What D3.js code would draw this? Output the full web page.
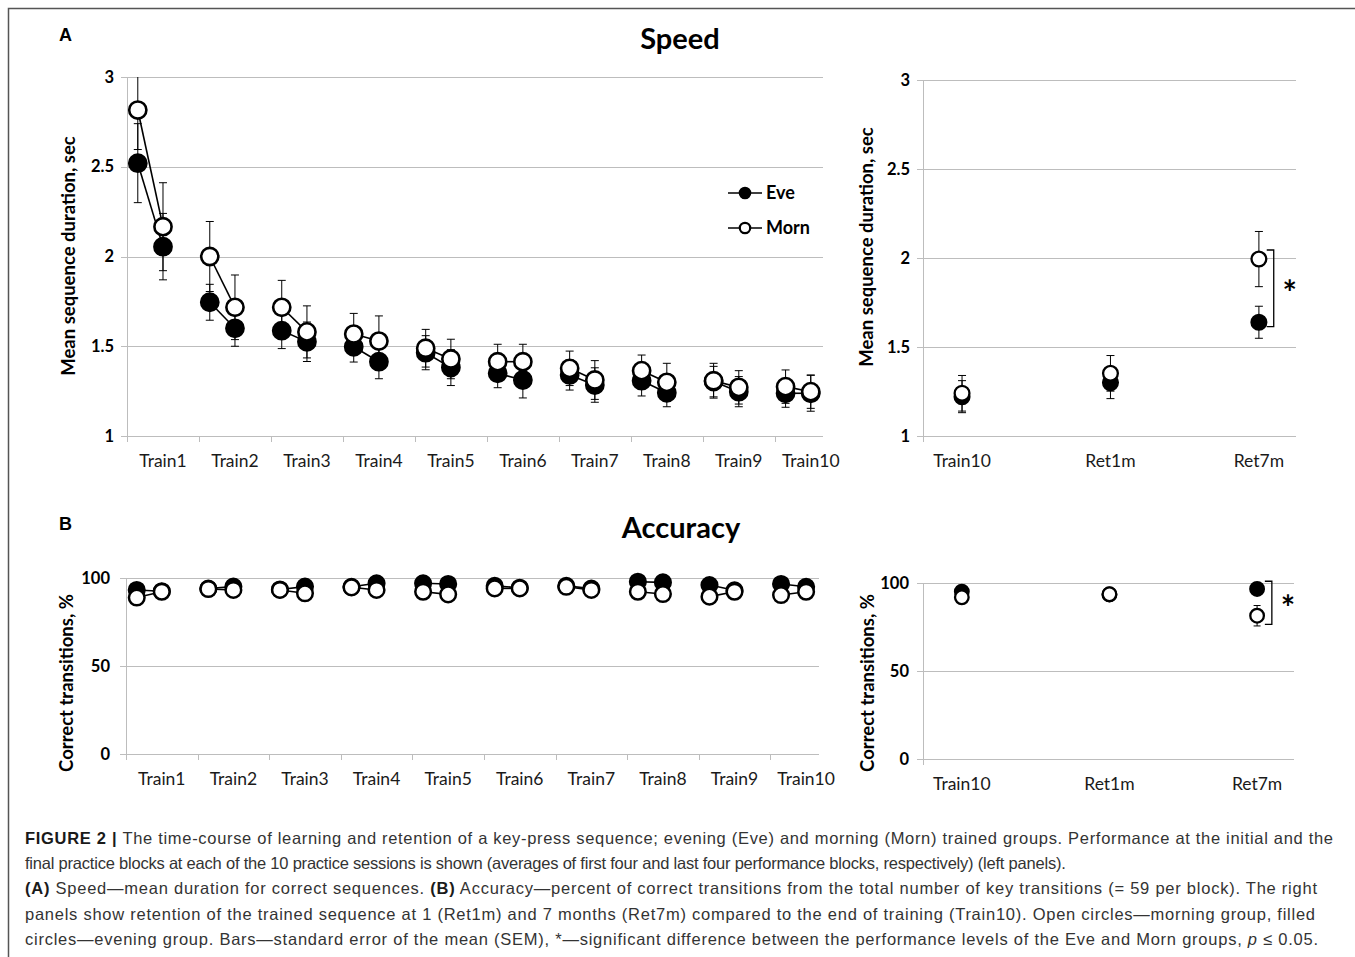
<!DOCTYPE html>
<html>
<head>
<meta charset="utf-8">
<script src="https://cdn.jsdelivr.net/npm/d3@7"></script>
<style>
    body { margin: 0; background: #fff; }
    svg { display: block; }
</style>
</head>
<body>
<div id="chart"></div>
<script>
    var width = 1355;
    var height = 957;

    // categories
    var sessions = ["Train1", "Train2", "Train3", "Train4", "Train5", "Train6", "Train7", "Train8", "Train9", "Train10"];
    var retLabels = ["Train10", "Ret1m", "Ret7m"];

    // speed, two blocks per session (first four / last four)
    var speedEve = [2.52, 2.055, 1.745, 1.60, 1.587, 1.525, 1.497, 1.414, 1.464, 1.381,
        1.349, 1.312, 1.34, 1.284, 1.308, 1.241, 1.303, 1.247, 1.238, 1.238];
    var speedEveErr = [0.22, 0.185, 0.10, 0.10, 0.10, 0.11, 0.085, 0.095, 0.095, 0.10,
        0.08, 0.10, 0.084, 0.096, 0.085, 0.078, 0.085, 0.084, 0.078, 0.10];
    var speedMorn = [2.816, 2.166, 2.0, 1.717, 1.717, 1.58, 1.568, 1.529, 1.489, 1.429,
        1.414, 1.414, 1.377, 1.312, 1.364, 1.299, 1.308, 1.271, 1.275, 1.247];
    var speedMornErr = [0.22, 0.245, 0.195, 0.18, 0.15, 0.145, 0.115, 0.14, 0.105, 0.11,
        0.097, 0.097, 0.096, 0.108, 0.087, 0.106, 0.097, 0.093, 0.093, 0.093];

    // accuracy, %
    var accEve = [93.2, 92.5, 94, 95.1, 93.5, 95.1, 95, 97, 97, 96.6,
        95.5, 94.5, 95.5, 94, 97.9, 97.5, 96, 93, 96.6, 95];
    var accEveErr = [1.5, 1.4, 1.2, 1.0, 1.3, 1.1, 1.0, 0.9, 0.9, 1.0,
        1.0, 1.2, 1.0, 1.2, 0.8, 0.9, 1.1, 1.3, 1.0, 1.1];
    var accMorn = [88.9, 92.2, 93.75, 93.2, 93.2, 91.3, 94.7, 93.2, 92.2, 90.7,
        94.1, 94.1, 95, 93.2, 92.2, 90.9, 89.4, 92.2, 90.3, 92.2];
    var accMornErr = [2.0, 1.6, 1.4, 1.5, 1.5, 1.8, 1.2, 1.5, 1.6, 1.9,
        1.3, 1.3, 1.2, 1.5, 1.6, 1.8, 2.0, 1.6, 1.9, 1.6];

    // retention (Train10, Ret1m, Ret7m)
    var retSpeedEve = [1.221, 1.30, 1.639];
    var retSpeedEveErr = [0.09, 0.09, 0.09];
    var retSpeedMorn = [1.24, 1.352, 1.994];
    var retSpeedMornErr = [0.1, 0.1, 0.155];
    var retAccEve = [95.1, 93.5, 96.6];
    var retAccEveErr = [1.2, 1.2, 1.0];
    var retAccMorn = [91.9, 93.6, 81.4];
    var retAccMornErr = [1.5, 1.5, 5.8];

    // significance brackets (data units) at Ret7m
    var speedBracket = [1.615, 2.045];
    var accBracket = [76.5, 101];

    var chartFont = "Lato, 'Open Sans', sans-serif";
    var gridColor = "#bdbdbd";

    var svg = d3.select("#chart").append("svg")
        .attr("width", width)
        .attr("height", height);

    // figure frame
    svg.append("path")
        .attr("d", "M8.5," + height + "V8.5H" + width)
        .attr("fill", "none")
        .attr("stroke", "#555")
        .attr("stroke-width", 1.5);

    function blockPos(i) {
        // session index + offset of block inside session
        return Math.floor(i / 2) + (i % 2 === 0 ? 0.15 : 0.5);
    }

    function drawPanel(p) {
        var g = svg.append("g");
        var x = d3.scaleLinear().domain(p.xDomain).range(p.xRange);
        var y = d3.scaleLinear().domain(p.yDomain).range(p.yRange);

        //网格线
        g.selectAll(".grid")
            .data(p.yTicks)
            .enter()
            .append("line")
            .attr("x1", p.xRange[0] - 6)
            .attr("x2", p.xRange[1])
            .attr("y1", function (d) { return Math.round(y(d)) + 0.5; })
            .attr("y2", function (d) { return Math.round(y(d)) + 0.5; })
            .attr("stroke", gridColor)
            .attr("stroke-width", 1);

        // y axis line
        g.append("line")
            .attr("x1", Math.round(p.xRange[0]) + 0.5)
            .attr("x2", Math.round(p.xRange[0]) + 0.5)
            .attr("y1", p.yRange[1])
            .attr("y2", p.yRange[0] + 6)
            .attr("stroke", gridColor);

        // x ticks
        g.selectAll(".xtick")
            .data(p.xTicks)
            .enter()
            .append("line")
            .attr("x1", function (d) { return Math.round(x(d)) + 0.5; })
            .attr("x2", function (d) { return Math.round(x(d)) + 0.5; })
            .attr("y1", p.yRange[0])
            .attr("y2", p.yRange[0] + 6)
            .attr("stroke", gridColor);

        // y tick labels
        g.selectAll(".ylab")
            .data(p.yTicks)
            .enter()
            .append("text")
            .attr("x", p.xRange[0] - p.yLabelGap)
            .attr("y", function (d) { return y(d) + 5.5; })
            .attr("text-anchor", "end")
            .style("font-family", chartFont)
            .style("font-weight", "bold")
            .style("font-size", "16.5px")
            .text(function (d) { return String(d); });

        // category labels
        g.selectAll(".xlab")
            .data(p.labels)
            .enter()
            .append("text")
            .attr("x", function (d, i) { return x(p.labelPos(i)); })
            .attr("y", p.yRange[0] + p.xLabelOffset)
            .attr("text-anchor", "middle")
            .style("font-family", chartFont)
            .style("font-size", "17.5px")
            .style("fill", "#1a1a1a")
            .text(function (d) { return d; });

        // y axis title
        g.append("text")
            .attr("transform", "translate(" + p.titleX + "," + p.titleY + ") rotate(-90)")
            .attr("text-anchor", "middle")
            .style("font-family", chartFont)
            .style("font-weight", "bold")
            .style("font-size", "18.5px")
            .text(p.yTitle);

        function clampV(v) {
            return Math.max(p.yDomain[0], Math.min(p.yDomain[1], v));
        }

        p.series.forEach(function (s) {
            var pts = s.values.map(function (v, i) {
                return { x: p.pos(i), v: v, e: s.errors[i], i: i };
            });

            // error bars
            var eb = g.append("g").attr("stroke", "#000").attr("stroke-width", 1);
            pts.forEach(function (d) {
                var hi = d.v + d.e, lo = d.v - d.e;
                var cx = x(d.x);
                eb.append("line")
                    .attr("x1", cx).attr("x2", cx)
                    .attr("y1", y(clampV(hi))).attr("y2", y(clampV(lo)));
                [hi, lo].forEach(function (b) {
                    if (b > p.yDomain[1] || b < p.yDomain[0]) return;
                    eb.append("line")
                        .attr("x1", cx - p.cap).attr("x2", cx + p.cap)
                        .attr("y1", y(b)).attr("y2", y(b));
                });
            });

            // connecting lines inside each session
            if (p.connect) {
                var pairs = d3.range(pts.length / 2).map(function (k) {
                    return [pts[2 * k], pts[2 * k + 1]];
                });
                g.selectAll(null)
                    .data(pairs)
                    .enter()
                    .append("line")
                    .attr("x1", function (d) { return x(d[0].x); })
                    .attr("y1", function (d) { return y(d[0].v); })
                    .attr("x2", function (d) { return x(d[1].x); })
                    .attr("y2", function (d) { return y(d[1].v); })
                    .attr("stroke", "#000")
                    .attr("stroke-width", 1.6);
            }

            // markers
            g.selectAll(null)
                .data(pts)
                .enter()
                .append("circle")
                .attr("cx", function (d) { return x(d.x); })
                .attr("cy", function (d) { return y(d.v); })
                .attr("r", p.r)
                .attr("fill", s.filled ? "#000" : "#fff")
                .attr("stroke", "#000")
                .attr("stroke-width", p.rStroke);
        });

        // significance bracket
        if (p.bracket) {
            var bx = x(p.bracketX);
            g.append("path")
                .attr("d", "M" + (bx - 7) + "," + y(p.bracket[1]) + "H" + bx + "V" + y(p.bracket[0]) + "H" + (bx - 7))
                .attr("fill", "none")
                .attr("stroke", "#000")
                .attr("stroke-width", 1.3);
            g.append("text")
                .attr("x", bx + 16)
                .attr("y", (y(p.bracket[0]) + y(p.bracket[1])) / 2 + 17)
                .attr("text-anchor", "middle")
                .style("font-family", chartFont)
                .style("font-weight", "bold")
                .style("font-size", "34px")
                .text("*");
        }
        return g;
    }

    // A, left: speed over training
    drawPanel({
        xDomain: [0, 9.67], xRange: [127, 823],
        yDomain: [1, 3], yRange: [436, 77],
        yTicks: [1, 1.5, 2, 2.5, 3], yLabelGap: 13,
        xTicks: d3.range(10),
        labels: sessions, labelPos: function (i) { return i + 0.5; }, xLabelOffset: 31,
        pos: blockPos,
        yTitle: "Mean sequence duration, sec", titleX: 75, titleY: 256,
        r: 8.6, rStroke: 2.6, cap: 4, connect: true,
        series: [
            { values: speedEve, errors: speedEveErr, filled: true },
            { values: speedMorn, errors: speedMornErr, filled: false }
        ]
    });

    // A, right: retention speed
    drawPanel({
        xDomain: [0.737, 3.25], xRange: [923, 1296],
        yDomain: [1, 3], yRange: [436, 80],
        yTicks: [1, 1.5, 2, 2.5, 3], yLabelGap: 13,
        xTicks: [0.737],
        labels: retLabels, labelPos: function (i) { return i + 1; }, xLabelOffset: 31,
        pos: function (i) { return i + 1; },
        yTitle: "Mean sequence duration, sec", titleX: 873, titleY: 247,
        r: 7.4, rStroke: 2.3, cap: 4, connect: false,
        bracket: speedBracket, bracketX: 3.1,
        series: [
            { values: retSpeedEve, errors: retSpeedEveErr, filled: true },
            { values: retSpeedMorn, errors: retSpeedMornErr, filled: false }
        ]
    });

    // B, left: accuracy over training
    drawPanel({
        xDomain: [0, 9.68], xRange: [126, 819],
        yDomain: [0, 100], yRange: [754, 578],
        yTicks: [0, 50, 100], yLabelGap: 16,
        xTicks: d3.range(10),
        labels: sessions, labelPos: function (i) { return i + 0.5; }, xLabelOffset: 31,
        pos: blockPos,
        yTitle: "Correct transitions, %", titleX: 73, titleY: 683,
        r: 7.8, rStroke: 2.5, cap: 3.5, connect: true,
        series: [
            { values: accEve, errors: accEveErr, filled: true },
            { values: accMorn, errors: accMornErr, filled: false }
        ]
    });

    // B, right: retention accuracy
    drawPanel({
        xDomain: [0.737, 3.25], xRange: [923, 1294],
        yDomain: [0, 100], yRange: [759, 583],
        yTicks: [0, 50, 100], yLabelGap: 14,
        xTicks: [0.737],
        labels: retLabels, labelPos: function (i) { return i + 1; }, xLabelOffset: 31,
        pos: function (i) { return i + 1; },
        yTitle: "Correct transitions, %", titleX: 874, titleY: 683,
        r: 6.8, rStroke: 2.3, cap: 3.5, connect: false,
        bracket: accBracket, bracketX: 3.1,
        series: [
            { values: retAccEve, errors: retAccEveErr, filled: true },
            { values: retAccMorn, errors: retAccMornErr, filled: false }
        ]
    });

    // panel titles and letters
    svg.append("text").attr("x", 680).attr("y", 49).attr("text-anchor", "middle")
        .style("font-family", chartFont).style("font-weight", "bold").style("font-size", "29px")
        .text("Speed");
    svg.append("text").attr("x", 681).attr("y", 538).attr("text-anchor", "middle")
        .style("font-family", chartFont).style("font-weight", "bold").style("font-size", "29px")
        .text("Accuracy");
    svg.append("text").attr("x", 59).attr("y", 41)
        .style("font-family", "'Liberation Sans', Arial, sans-serif").style("font-weight", "bold").style("font-size", "18px")
        .text("A");
    svg.append("text").attr("x", 59).attr("y", 530)
        .style("font-family", "'Liberation Sans', Arial, sans-serif").style("font-weight", "bold").style("font-size", "18px")
        .text("B");

    // legend
    var legend = svg.append("g");
    [{ name: "Eve", filled: true, y: 193 }, { name: "Morn", filled: false, y: 228 }].forEach(function (d) {
        legend.append("line").attr("x1", 728).attr("x2", 762).attr("y1", d.y).attr("y2", d.y)
            .attr("stroke", "#000").attr("stroke-width", 1.6);
        legend.append("circle").attr("cx", 745).attr("cy", d.y).attr("r", 5.2)
            .attr("fill", d.filled ? "#000" : "#fff").attr("stroke", "#000").attr("stroke-width", 2.2);
        legend.append("text").attr("x", 766).attr("y", d.y + 6)
            .style("font-family", chartFont).style("font-weight", "bold").style("font-size", "18px")
            .text(d.name);
    });

    // caption
    var capFont = "'Liberation Sans', Arial, sans-serif";
    var capLines = [
        [["b", "FIGURE 2 | "], ["", "The time-course of learning and retention of a key-press sequence; evening (Eve) and morning (Morn) trained groups. Performance at the initial and the"]],
        [["", "final practice blocks at each of the 10 practice sessions is shown (averages of first four and last four performance blocks, respectively) (left panels)."]],
        [["b", "(A)"], ["", " Speed\u2014mean duration for correct sequences. "], ["b", "(B)"], ["", " Accuracy\u2014percent of correct transitions from the total number of key transitions (= 59 per block). The right"]],
        [["", "panels show retention of the trained sequence at 1 (Ret1m) and 7 months (Ret7m) compared to the end of training (Train10). Open circles\u2014morning group, filled"]],
        [["", "circles\u2014evening group. Bars\u2014standard error of the mean (SEM), *\u2014significant difference between the performance levels of the Eve and Morn groups, "], ["i", "p"], ["", " \u2264 0.05."]]
    ];
    var capWidths = [1308, 1015, 1292, 1290, 1293];
    capLines.forEach(function (parts, li) {
        var t = svg.append("text")
            .attr("x", 25)
            .attr("y", 844 + li * 25.2)
            .style("font-family", capFont)
            .style("font-size", "16.5px")
            .style("fill", "#333");
        parts.forEach(function (pt) {
            t.append("tspan")
                .style("font-weight", pt[0] === "b" ? "bold" : "normal")
                .style("font-style", pt[0] === "i" ? "italic" : "normal")
                .style("fill", pt[0] === "b" ? "#1a1a1a" : "#333")
                .text(pt[1]);
        });
        // stretch full lines to the frame width, do not squeeze the short one
        var w = t.node().getComputedTextLength();
        var target = Math.max(capWidths[li], w * 0.97);
        t.attr("textLength", target).attr("lengthAdjust", "spacing");
    });
</script>
</body>
</html>
